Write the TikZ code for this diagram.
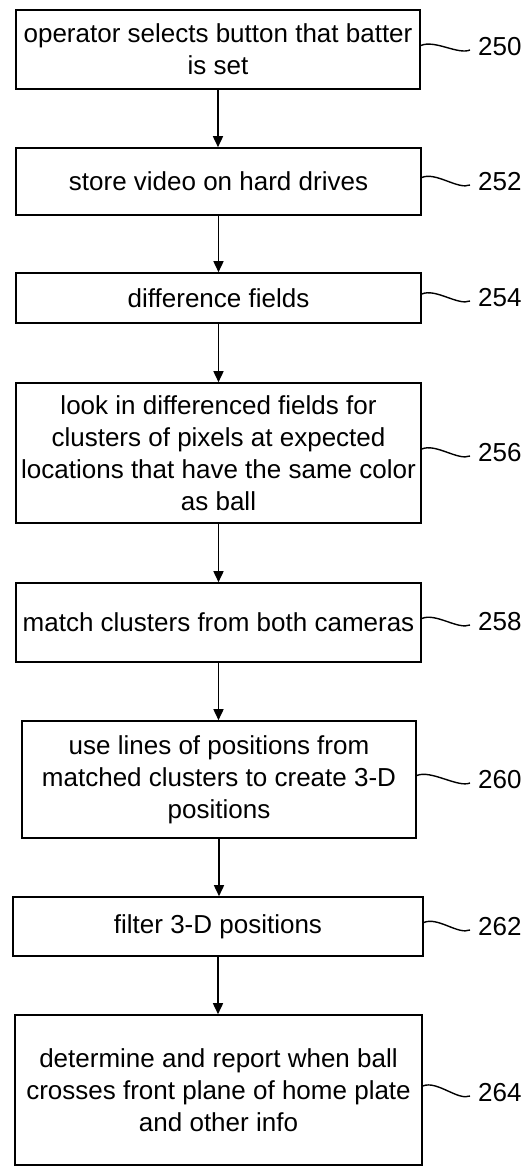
\documentclass[tikz,border=0pt]{standalone}
\usepackage{fontspec}
\setmainfont{Liberation Sans}
\usetikzlibrary{arrows.meta}
\tikzset{
  stepbox/.style={rectangle,draw=black,line width=1.6pt,align=center,
    inner sep=2pt,font=\fontsize{26}{32}\selectfont},
  refnum/.style={font=\fontsize{26}{32}\selectfont,anchor=west,
    inner xsep=8pt,inner ysep=1pt},
  arr/.style={-{Triangle[length=11pt,width=10pt]},line width=1.6pt},
  squig/.style={line width=1.4pt}
}

\begin{document}
\begin{tikzpicture}[x=1pt,y=1pt]
\useasboundingbox (0,0) rectangle (528,-1169);

\node[stepbox,minimum width=404,minimum height=79] (batter) at (218,-49.5) {
  operator selects button that batter\\
  is set};
\node[stepbox,minimum width=405,minimum height=67] (store) at (218.5,-181.5) {
  store video on hard drives};
\node[stepbox,minimum width=405,minimum height=50] (diff) at (218.5,-298) {
  difference fields};
\node[stepbox,minimum width=405,minimum height=140] (look) at (218.5,-453) {
  look in differenced fields for\\
  clusters of pixels at expected\\
  locations that have the same color\\
  as ball};
\node[stepbox,minimum width=405,minimum height=79] (match) at (218.5,-622.5) {
  match clusters from both cameras};
\node[stepbox,minimum width=394,minimum height=117] (lines) at (219,-779.5) {
  use lines of positions from\\
  matched clusters to create 3-D\\
  positions};
\node[stepbox,minimum width=410,minimum height=59] (filter) at (218,-926.5) {
  filter 3-D positions};
\node[stepbox,minimum width=407,minimum height=150] (report) at (218.5,-1090) {
  determine and report when ball\\
  crosses front plane of home plate\\
  and other info};

% Reference numerals
\node[refnum] (n250) at (470,-47) {250};
\node[refnum] (n252) at (470,-182) {252};
\node[refnum] (n254) at (470,-298) {254};
\node[refnum] (n256) at (470,-453) {256};
\node[refnum] (n258) at (470,-622) {258};
\node[refnum] (n260) at (470,-780) {260};
\node[refnum] (n262) at (470,-927) {262};
\node[refnum] (n264) at (470,-1093) {264};

% Flow
\draw[arr] (batter.south) -- (batter.south |- store.north);
\draw[arr] (store.south) -- (store.south |- diff.north);
\draw[arr] (diff.south) -- (diff.south |- look.north);
\draw[arr] (look.south) -- (look.south |- match.north);
\draw[arr] (match.south) -- (match.south |- lines.north);
\draw[arr] (lines.south) -- (lines.south |- filter.north);
\draw[arr] (filter.south) -- (filter.south |- report.north);

% Leader squiggles
\draw[squig] ([yshift=4]batter.east) .. controls +(14,6) and +(-12,-5) .. ([yshift=-3]n250.west);
\draw[squig] ([yshift=4]store.east) .. controls +(14,6) and +(-12,-5) .. ([yshift=-3]n252.west);
\draw[squig] ([yshift=4]diff.east) .. controls +(14,6) and +(-12,-5) .. ([yshift=-3]n254.west);
\draw[squig] ([yshift=4]look.east) .. controls +(14,6) and +(-12,-5) .. ([yshift=-3]n256.west);
\draw[squig] ([yshift=4]match.east) .. controls +(14,6) and +(-12,-5) .. ([yshift=-3]n258.west);
\draw[squig] ([yshift=4]lines.east) .. controls +(14,6) and +(-12,-5) .. ([yshift=-3]n260.west);
\draw[squig] ([yshift=4]filter.east) .. controls +(14,6) and +(-12,-5) .. ([yshift=-3]n262.west);
\draw[squig] ([yshift=4]report.east) .. controls +(14,6) and +(-12,-5) .. ([yshift=-3]n264.west);

\end{tikzpicture}
\end{document}
